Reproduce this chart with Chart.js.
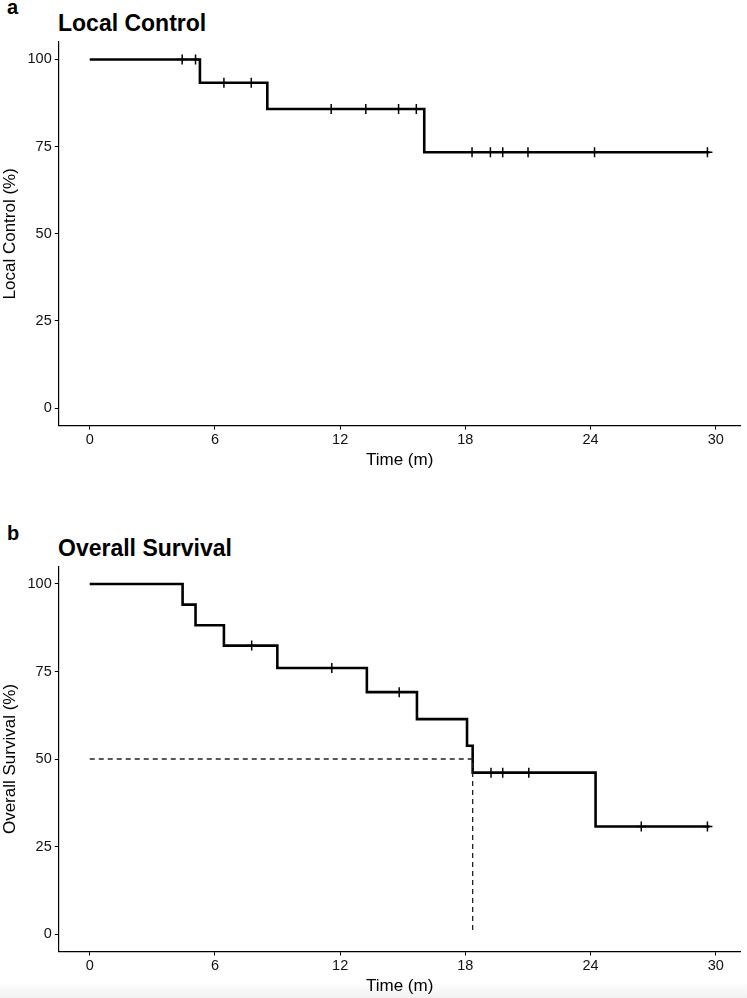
<!DOCTYPE html>
<html>
<head>
<meta charset="utf-8">
<script src="https://cdn.jsdelivr.net/npm/chart.js@4.4.1/dist/chart.umd.min.js"></script>
<style>
  body { margin: 0; background: #fff; font-family: 'Liberation Sans', Arial, Helvetica, sans-serif; }
  #page { position: relative; width: 747px; height: 998px; overflow: hidden; }
  canvas { position: absolute; left: 0; }
  .tag { position: absolute; font-weight: bold; font-size: 20px; line-height: 20px; color: #000; }
  .ttl { position: absolute; font-weight: bold; font-size: 23px; line-height: 23px; color: #000; }
  #shade { position: absolute; left: 0; top: 982px; width: 747px; height: 16px; background: linear-gradient(#fff, #f1f1f1); }
</style>
</head>
<body>
<div id="page">
  <div id="shade"></div>
  <div class="tag" style="left:7px; top:-3px;">a</div>
  <div class="ttl" style="left:58px; top:12px;">Local Control</div>
  <div class="tag" style="left:7px; top:523px;">b</div>
  <div class="ttl" style="left:58px; top:537px;">Overall Survival</div>
  <canvas id="lcChart" width="747" height="480" style="top:0px;"></canvas>
  <canvas id="osChart" width="747" height="518" style="top:480px;"></canvas>
</div>
<script>
// Local control curve (time in months, % free of local failure)
const lcTimes = [0, 5.28, 8.51, 16.03, 29.7];
const lcSurv = [100, 93.3, 85.8, 73.4, 73.4];
const lcCensorTimes = [4.43, 5.07, 6.43, 7.74, 11.57, 13.23, 14.8, 15.65, 18.32, 19.2, 19.79, 21.0, 24.19, 29.6];
const lcCensorSurv = [100, 100, 93.3, 93.3, 85.8, 85.8, 85.8, 85.8, 73.4, 73.4, 73.4, 73.4, 73.4, 73.4];

// Overall survival curve
const osTimes = [0, 4.45, 5.07, 6.43, 8.99, 13.28, 15.68, 18.08, 18.35, 24.24, 29.7];
const osSurv = [100, 94.1, 88.2, 82.4, 76.0, 69.1, 61.4, 53.8, 46.1, 30.7, 30.7];
const osCensorTimes = [7.76, 11.6, 14.83, 19.23, 19.79, 21.04, 26.43, 29.6];
const osCensorSurv = [82.4, 76.0, 69.1, 46.1, 46.1, 46.1, 30.7, 30.7];

// median survival marker
const medianTime = 18.35;
const medianLevel = 50;

// axis ticks
const timeTicks = [0, 6, 12, 18, 24, 30];
const pctTicks = [0, 25, 50, 75, 100];

const fontFam = "'Liberation Sans', Arial, Helvetica, sans-serif";

function toPoints(xs, ys) {
  return xs.map((x, i) => ({ x: x, y: ys[i] }));
}

function makeChart(id, yTitle, times, surv, cTimes, cSurv, withMedian, padTop, padBottom) {
  const datasets = [{
    data: toPoints(times, surv),
    stepped: 'before',
    borderColor: '#000',
    borderWidth: 2.6,
    pointRadius: 0,
    fill: false
  }, {
    data: toPoints(cTimes, cSurv),
    showLine: false,
    pointStyle: 'cross',
    pointRadius: 5,
    pointBorderWidth: 1.5,
    pointBorderColor: '#000'
  }];
  if (withMedian) {
    datasets.unshift({
      data: [{ x: 0, y: medianLevel }, { x: medianTime, y: medianLevel }, { x: medianTime, y: 0 }],
      borderColor: '#222',
      borderWidth: 1.3,
      borderDash: [5, 4],
      pointRadius: 0,
      fill: false
    });
  }
  return new Chart(document.getElementById(id), {
    type: 'line',
    data: { datasets: datasets },
    options: {
      responsive: false,
      animation: false,
      devicePixelRatio: 1,
      layout: { padding: { top: padTop, bottom: padBottom, left: 0, right: 6 } },
      plugins: { legend: { display: false }, tooltip: { enabled: false } },
      scales: {
        x: {
          type: 'linear',
          min: -1.485,
          max: 31.185,
          afterBuildTicks: s => { s.ticks = timeTicks.map(v => ({ value: v })); },
          afterFit: s => { s.height = 46; },
          grid: { drawOnChartArea: false, drawTicks: true, tickLength: 4, color: '#000', lineWidth: 1 },
          border: { display: true, color: '#000', width: 1.2 },
          ticks: { color: '#111', padding: 2, maxRotation: 0, font: { family: fontFam, size: 14.5 } },
          title: { display: true, text: 'Time (m)', color: '#000', padding: { top: 0, bottom: 1 }, font: { family: fontFam, size: 17 } }
        },
        y: {
          type: 'linear',
          min: -5,
          max: 105,
          afterBuildTicks: s => { s.ticks = pctTicks.map(v => ({ value: v })); },
          afterFit: s => { s.width = 58.75; },
          grid: { drawOnChartArea: false, drawTicks: true, tickLength: 4, color: '#000', lineWidth: 1 },
          border: { display: true, color: '#000', width: 1.2 },
          ticks: { color: '#111', padding: 3, font: { family: fontFam, size: 14.5 } },
          title: { display: true, text: yTitle, color: '#000', padding: { top: 0.5, bottom: 0 }, font: { family: fontFam, size: 17 } }
        }
      }
    }
  });
}

makeChart('lcChart', 'Local Control (%)', lcTimes, lcSurv, lcCensorTimes, lcCensorSurv, false, 42, 8.4);
makeChart('osChart', 'Overall Survival (%)', osTimes, osSurv, osCensorTimes, osCensorSurv, true, 86.5, 0.5);
</script>
</body>
</html>
